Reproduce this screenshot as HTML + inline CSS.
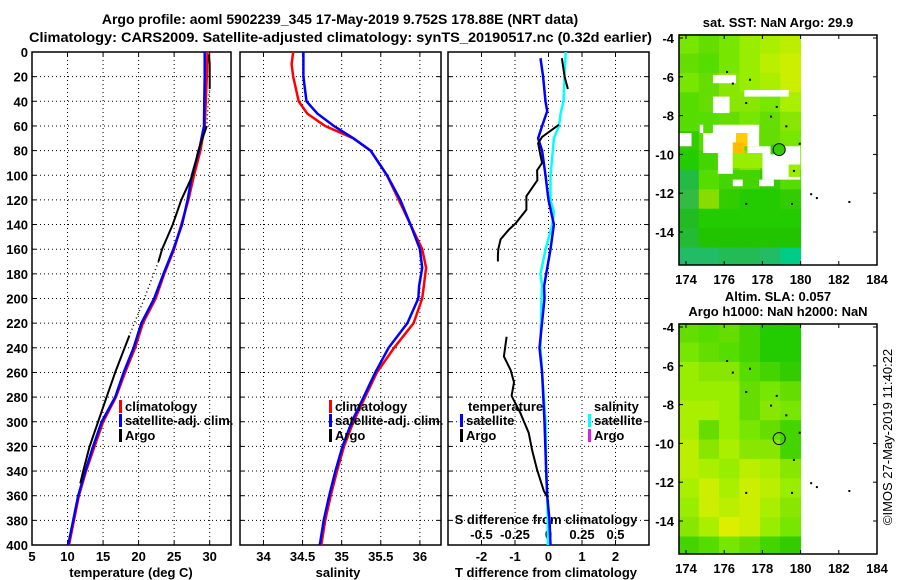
<!DOCTYPE html>
<html><head><meta charset="utf-8">
<style>
html,body{margin:0;padding:0;background:#fff;}
svg{display:block;font-family:"Liberation Sans",sans-serif;}
.b{font-weight:bold;font-size:13px;}
</style></head>
<body>
<svg id="chart" width="900" height="580" viewBox="0 0 900 580" xmlns="http://www.w3.org/2000/svg">
<text x="340" y="24" text-anchor="middle" class="b" style="font-size:14px">Argo profile: aoml 5902239_345 17-May-2019 9.752S 178.88E (NRT data)</text>
<text x="29" y="42" class="b" style="font-size:14px" textLength="623" lengthAdjust="spacingAndGlyphs">Climatology: CARS2009. Satellite-adjusted climatology: synTS_20190517.nc (0.32d earlier)</text>
<text x="778" y="27" text-anchor="middle" class="b">sat. SST: NaN Argo: 29.9</text>
<text x="778" y="301" text-anchor="middle" class="b">Altim. SLA: 0.057</text>
<text x="778" y="316" text-anchor="middle" class="b">Argo h1000: NaN h2000: NaN</text>
<text transform="translate(892,437) rotate(-90)" text-anchor="middle" style="font-size:13px">©IMOS 27-May-2019 11:40:22</text>
<g id="layer"></g>
</svg>
<script>
// ---- data ----
const depthT = [0,20,40,60,80,100,120,140,160,180,200,220,240,260,280,300,320,340,360,380,400];
const tempClim = [29.7,29.6,29.45,29.3,28.7,27.8,27.0,26.0,25.0,23.6,22.4,20.6,19.5,18.1,16.8,15.0,13.8,12.6,11.6,10.9,10.2];
const tempSat  = [29.3,29.3,29.25,29.2,28.5,27.5,26.9,26.1,24.9,23.5,22.2,20.4,19.3,17.9,16.7,14.8,13.6,12.5,11.5,10.8,10.1];
const depthArgo = [2,10,20,30,40,60,80,100,120,140,160,170,200,230,260,280,300,320,340,350];
const tempArgo  = [29.9,30.0,30.0,30.0,null,29.6,28.4,27.6,26.0,24.8,23.3,22.8,null,18.7,16.7,15.5,14.3,13.1,12.2,11.8];
const tempArgoDotted = [29.9,30.0,30.0,30.0,29.8,29.6,28.4,27.6,26.0,24.8,23.3,22.8,20.8,18.7,16.7,15.5,14.3,13.1,12.2,11.8];
const depthS = [0,10,20,40,50,60,70,80,100,120,140,160,175,190,200,220,240,260,280,300,320,340,360,380,400];
const salClim = [34.38,34.36,34.38,34.45,34.56,34.79,35.15,35.37,35.58,35.73,35.88,36.03,36.08,36.05,36.03,35.92,35.67,35.45,35.30,35.15,35.03,34.94,34.86,34.79,34.74];
const salSat  = [34.51,34.51,34.51,34.55,34.69,34.90,35.15,35.37,35.58,35.75,35.88,36.00,36.03,35.99,35.98,35.84,35.60,35.43,35.28,35.13,35.01,34.92,34.84,34.77,34.72];
const depthD = [5,20,40,48,60,70,80,100,120,140,160,180,190,200,240,260,300,340,360,380,400];
const tDiffSat = [-0.24,-0.16,-0.09,-0.04,-0.19,-0.31,-0.19,-0.09,0.0,0.16,0.06,-0.07,-0.13,-0.12,-0.27,-0.19,-0.12,-0.07,-0.04,0.03,0.06];
const depthDS = [0,20,40,50,60,70,80,100,120,130,140,160,180,190,200,240,260,280,300,340,360,380,400];
const sDiffSat = [0.128,0.12,0.112,0.09,0.078,0.04,0.032,0.015,0.015,0.04,0.028,-0.022,-0.06,-0.048,-0.052,-0.06,-0.048,-0.035,-0.022,-0.018,-0.01,-0.005,-0.005];
const depthDA = [5,20,30,null,59,69,74,84,90,96,104,117,128,139,144,152,160,165,170,null,231,247,258,268,279,293,309,323,339,356,361];
const tDiffArgo = [0.40,0.48,0.58,null,0.31,-0.19,-0.31,-0.24,-0.19,-0.34,-0.33,-0.66,-0.66,-0.98,-1.18,-1.43,-1.5,-1.51,-1.51,null,-1.25,-1.33,-1.13,-1.03,-1.1,-0.84,-0.59,-0.49,-0.34,-0.14,-0.04];
const depthTicks = [0,20,40,60,80,100,120,140,160,180,200,220,240,260,280,300,320,340,360,380,400];
const tTicks = [5,10,15,20,25,30];
const sTicks = [34,34.5,35,35.5,36];
const sTickLabels = ["34","34.5","35","35.5","36"];
const dTicks = [-2,-1,0,1,2];
const sdTicks = [-0.5,-0.25,0,0.25,0.5];
const sdTickLabels = ["-0.5","-0.25","0","0.25","0.5"];
const lonTicks = [174,176,178,180,182,184];
const latTicks = [-4,-6,-8,-10,-12,-14];
const gridLonEdges = [173.6,174.67,175.73,176.8,177.87,178.93,180];
const gridLatEdges = [-3.8,-4.8,-5.8,-6.8,-7.8,-8.8,-9.8,-10.8,-11.8,-12.8,-13.8,-14.8,-15.7];
const sstColors = [
 ["77e600","66dd00","77e600","99ee00","aaee00","bbee00"],
 ["66dd00","55dd00","77e600","99ee00","bbee00","ccee00"],
 ["77e600","66dd00","88e600","99ee00","aaee00","ccee00"],
 ["55dd00","66dd00","88e600","88e600","77e600","aaee00"],
 ["55dd00","55dd00","66dd00","77e600","66dd00","88e600"],
 ["33cc00","55dd00","55dd00","66dd00","66dd00","77e600"],
 ["22cc00","44d400","66dd00","88e600","55dd00","88e600"],
 ["22bb44","55dd00","44d400","44d400","33cc00","55dd00"],
 ["33bb44","88dd00","33cc00","22cc00","22cc00","33cc00"],
 ["22bb22","22cc00","22cc00","22cc00","22cc00","22cc00"],
 ["22bb33","22c400","22c400","22c400","22c400","22c400"],
 ["22bb66","22bb66","22bb55","22bb55","22bb66","00cc88"]];
const slaColors = [
 ["66dd00","55dd00","66dd00","44d400","22cc00","22cc00"],
 ["77e600","66dd00","55dd00","44d400","22cc00","22cc00"],
 ["99ee00","88e600","88e600","55dd00","44d400","33cc00"],
 ["99ee00","99ee00","99ee00","66dd00","77e600","66dd00"],
 ["aaee00","aaee00","99ee00","66dd00","88e600","77e600"],
 ["aaee00","66dd00","99ee00","77e600","66dd00","44d400"],
 ["bbee00","88e600","aaee00","88e600","88e600","44d400"],
 ["bbee00","aaee00","99ee00","bbee00","aaee00","88e600"],
 ["aaee00","ccee00","aaee00","ccee00","bbee00","99ee00"],
 ["99ee00","ccee00","bbee00","ccee00","aaee00","88e600"],
 ["88e600","aaee00","ddee00","ccee00","99ee00","77e600"],
 ["44d400","55dd00","77e600","66dd00","44d400","33cc00"]];
const sstHoles = [[175.41,176.62,-5.9,-6.33],[177.05,179.38,-6.68,-7.02],[175.41,176.28,-7.02,-7.87],[174.72,174.9,-8.47,-8.9],[175.41,177.83,-8.47,-8.9],[173.63,174.29,-8.9,-9.58],[174.9,176.62,-8.9,-9.93],[177.22,177.83,-8.9,-9.58],[177.22,178.43,-9.58,-9.93],[179.04,179.98,-9.58,-10.53],[175.67,176.45,-9.93,-11.0],[178.0,179.38,-9.93,-11.3],[179.38,179.98,-11.15,-11.3],[176.45,176.97,-11.3,-11.64],[177.83,178.6,-11.3,-11.64]];
const sstPatches = [[176.62,177.22,-8.9,-9.58,"ffcc00"],[176.45,177.05,-9.38,-9.93,"ffbb00"],[176.45,178.0,-9.93,-10.7,"99ee00"],[179.38,179.98,-10.53,-11.15,"99ee00"],[178.43,179.04,-9.5,-10.0,"33cc00"]];
const argoLon = 178.88, argoLat = -9.752;
const islands = [[176.1,-5.7],[176.4,-6.3],[177.3,-6.1],[177.1,-7.3],[178.7,-7.5],[178.4,-8.0],[179.2,-8.5],[179.9,-9.4],[179.6,-10.8],[177.1,-12.5],[179.5,-12.5],[180.5,-12.0],[180.8,-12.2],[182.5,-12.4]];

const NS="http://www.w3.org/2000/svg";
const L=document.getElementById('layer');
function el(t,a,p){const e=document.createElementNS(NS,t);for(const k in a)e.setAttribute(k,a[k]);(p||L).appendChild(e);return e;}
function lin(d0,d1,r0,r1){return v=>r0+(v-d0)*(r1-r0)/(d1-d0);}
const yD=lin(0,400,52,545);
const P=[{x0:32,x1:231,sx:lin(5,33,32,231),name:'temperature'},{x0:240,x1:441,sx:lin(33.7,36.27,240,441),name:'salinity'},{x0:448,x1:649,sx:lin(-3,3,448,649),name:'difference'}];
const sdx=lin(-0.75,0.75,448,649);

function path(xs,ds,fx,color,w,name,dash){
  let d='',pen=false;
  for(let i=0;i<xs.length;i++){
    if(xs[i]===null||ds[i]===null){pen=false;continue;}
    d+=(pen?'L':'M')+fx(xs[i]).toFixed(1)+' '+yD(ds[i]).toFixed(1);pen=true;
  }
  const p=el('path',{d:d,fill:'none',stroke:color,'stroke-width':w});
  if(dash)p.setAttribute('stroke-dasharray',dash);
  
  
  return p;
}
function txt(x,y,s,anchor,name,cls){const t=el('text',{x:x,y:y,'text-anchor':anchor||'start',class:cls||'b'});t.textContent=s;return t;}

P.forEach((p,i)=>{
  const g=el('g',{});
  
  
  depthTicks.forEach(d=>{
    if(d>0&&d<400){const l=el('line',{x1:p.x0,x2:p.x1,y1:yD(d),y2:yD(d),stroke:'#000','stroke-width':1,'stroke-dasharray':'1,3'},g);}
    el('line',{x1:p.x0,x2:p.x0+4,y1:yD(d),y2:yD(d),stroke:'#000'},g);
    el('line',{x1:p.x1-4,x2:p.x1,y1:yD(d),y2:yD(d),stroke:'#000'},g);
  });
  const ticks=i===0?tTicks:i===1?sTicks:dTicks;
  ticks.forEach((v,j)=>{
    const x=p.sx(v);
    if(x>p.x0+1&&x<p.x1-1){const l=el('line',{x1:x,x2:x,y1:52,y2:545,stroke:'#000','stroke-dasharray':'1,3'},g);}
    el('line',{x1:x,x2:x,y1:541,y2:545,stroke:'#000'},g);
    el('line',{x1:x,x2:x,y1:52,y2:56,stroke:'#000'},g);
    txt(x,561,i===1?sTickLabels[j]:String(v),'middle','x-tick-label');
  });
  const r=el('rect',{x:p.x0,y:52,width:p.x1-p.x0,height:493,fill:'none',stroke:'#000','stroke-width':1.5},g);
  
  
});
depthTicks.forEach(d=>txt(28,yD(d)+5,String(d),'end','y-tick-label'));
txt(131,577,'temperature (deg C)','middle','x-axis-title-temperature');
txt(338,577,'salinity','middle','x-axis-title-salinity');
txt(546,577,'T difference from climatology','middle','x-axis-title-tdiff');
txt(546,524,'S difference from climatology','middle','s-axis-title');
sdTicks.forEach((v,j)=>txt(sdx(v),539,sdTickLabels[j],'middle','s-tick-label'));

path(tempArgoDotted,depthArgo,P[0].sx,'#000',1.5,'argo-temp-interp','1,3');
path(tempClim,depthT,P[0].sx,'#f00',2.5,'temp-climatology-line');
path(tempSat,depthT,P[0].sx,'#00f',2.5,'temp-satellite-line');
path(tempArgo,depthArgo,P[0].sx,'#000',2,'temp-argo-line');
path(salClim,depthS,P[1].sx,'#f00',2.5,'salinity-climatology-line');
path(salSat,depthS,P[1].sx,'#00f',2.5,'salinity-satellite-line');
path(sDiffSat,depthDS,sdx,'#0ff',2.5,'sdiff-satellite-line');
path(tDiffSat,depthD,P[2].sx,'#00f',2.5,'tdiff-satellite-line');
path(tDiffArgo,depthDA,P[2].sx,'#000',2,'tdiff-argo-line');

function leg(x,y,c,s,name){const r=el('rect',{x:x,y:y-11,width:3,height:13,fill:c});txt(x+6,y,s,'start',name+'-label');}
[[119,'temperature'],[329,'salinity']].forEach(([x,n])=>{
  leg(x,411,'#f00','climatology',n+'-legend-climatology');
  leg(x,425,'#00f','satellite-adj. clim.',n+'-legend-satellite');
  leg(x,440,'#000','Argo',n+'-legend-argo');
});
txt(468,411,'temperature','start','diff-legend-temperature-heading');
leg(460,425,'#00f','satellite','diff-legend-t-satellite');
leg(460,440,'#000','Argo','diff-legend-t-argo');
txt(594,411,'salinity','start','diff-legend-salinity-heading');
leg(588,425,'#0ff','satellite','diff-legend-s-satellite');
leg(588,440,'#e020e0','Argo','diff-legend-s-argo');

function drawMap(top,colors,holes,patches,filled,name){
  const mx=lin(174,184,686,877), my=lin(-4,-14,top+3,top+197);
  const g=el('g',{});
  
  
  for(let r=0;r<colors.length;r++)for(let c=0;c<colors[r].length;c++){
    const x=mx(gridLonEdges[c]),y=my(gridLatEdges[r]);
    const cell=el('rect',{x:x,y:y,width:mx(gridLonEdges[c+1])-x+0.5,height:my(gridLatEdges[r+1])-y+0.5,fill:'#'+colors[r][c]},g);
    
    
  }
  holes.forEach(h=>{const e=el('rect',{x:mx(h[0]),y:my(h[2]),width:mx(h[1])-mx(h[0]),height:my(h[3])-my(h[2]),fill:'#fff'},g);});
  patches.forEach(h=>{const e=el('rect',{x:mx(h[0]),y:my(h[2]),width:mx(h[1])-mx(h[0]),height:my(h[3])-my(h[2]),fill:'#'+h[4]},g);});
  islands.forEach(p=>{const e=el('rect',{x:mx(p[0]),y:my(p[1]),width:2,height:2,fill:'#000'},g);});
  const c=el('circle',{cx:mx(argoLon),cy:my(argoLat),r:6,fill:filled?'#33cc00':'none',stroke:'#000','stroke-width':1},g);
  
  const fr=el('rect',{x:679,y:top,width:198,height:230,fill:'none',stroke:'#000','stroke-width':1.5},g);
  
  lonTicks.forEach(v=>{const x=mx(v);el('line',{x1:x,x2:x,y1:top,y2:top+4,stroke:'#000'},g);el('line',{x1:x,x2:x,y1:top+226,y2:top+230,stroke:'#000'},g);txt(x,top+249,String(v),'middle','map-x-tick-label');});
  latTicks.forEach(v=>{const y=my(v);el('line',{x1:679,x2:683,y1:y,y2:y,stroke:'#000'},g);el('line',{x1:873,x2:877,y1:y,y2:y,stroke:'#000'},g);txt(674,y+5,String(v),'end','map-y-tick-label');});
}
drawMap(35,sstColors,sstHoles,sstPatches,true,'sst-map');
drawMap(324,slaColors,[],[],false,'sla-map');
</script>
</body></html>
